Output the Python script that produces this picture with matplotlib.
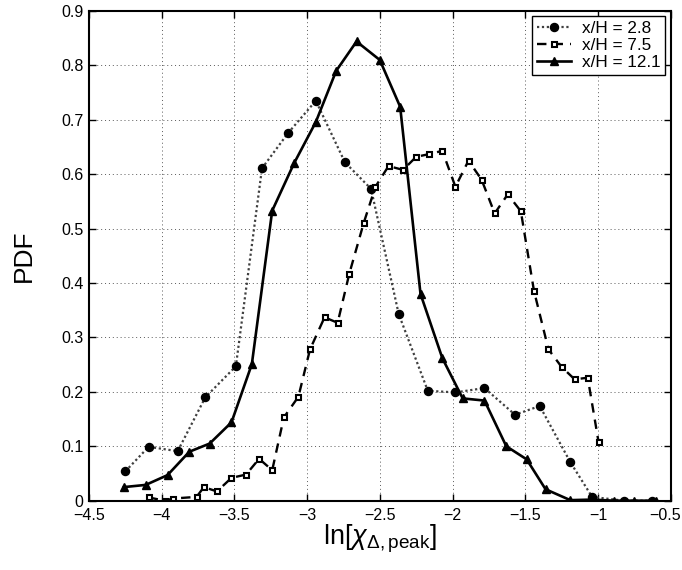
import numpy as np
import matplotlib
matplotlib.use('Agg')
import matplotlib.pyplot as plt
import matplotlib.transforms as mtrans

plt.rcParams['font.family'] = ['Liberation Sans', 'DejaVu Sans']
plt.rcParams['mathtext.fontset'] = 'custom'
plt.rcParams['mathtext.rm'] = 'Liberation Sans'
plt.rcParams['mathtext.it'] = 'Liberation Sans:italic'

# x/H = 2.8 (circles, dotted)
x1 = [-4.25, -4.09, -3.89, -3.70, -3.49, -3.31, -3.13, -2.94, -2.74, -2.56,
      -2.37, -2.17, -1.98, -1.78, -1.57, -1.40, -1.19, -1.04, -0.82, -0.63]
y1 = [0.054, 0.099, 0.091, 0.190, 0.247, 0.611, 0.676, 0.735, 0.622, 0.573,
      0.343, 0.202, 0.199, 0.207, 0.158, 0.174, 0.071, 0.007, 0.0, 0.0]

# x/H = 7.5 (squares, dashed)
x2 = [-4.09, -3.98, -3.92, -3.76, -3.71, -3.62, -3.52, -3.42, -3.33, -3.24,
      -3.16, -3.06, -2.98, -2.88, -2.79, -2.71, -2.61, -2.53, -2.44, -2.34,
      -2.25, -2.16, -2.07, -1.98, -1.89, -1.80, -1.71, -1.62, -1.53, -1.44,
      -1.34, -1.25, -1.16, -1.07, -0.995]
y2 = [0.006, 0.0, 0.004, 0.007, 0.025, 0.017, 0.042, 0.048, 0.077, 0.056,
      0.153, 0.191, 0.278, 0.337, 0.327, 0.417, 0.511, 0.577, 0.615, 0.608,
      0.632, 0.637, 0.643, 0.577, 0.625, 0.590, 0.528, 0.563, 0.532, 0.386,
      0.278, 0.246, 0.223, 0.226, 0.107]

# x/H = 12.1 (triangles, solid)
x3 = [-4.26, -4.11, -3.96, -3.81, -3.67, -3.52, -3.38, -3.24, -3.09, -2.94,
      -2.80, -2.66, -2.50, -2.36, -2.22, -2.07, -1.93, -1.78, -1.63, -1.49,
      -1.36, -1.19, -1.04, -0.89, -0.75, -0.60]
y3 = [0.025, 0.029, 0.047, 0.090, 0.105, 0.144, 0.251, 0.533, 0.620, 0.696,
      0.790, 0.844, 0.810, 0.724, 0.380, 0.262, 0.188, 0.184, 0.100, 0.076,
      0.021, 0.001, 0.002, 0.0, 0.0, 0.0]

labels = ['x/H = 2.8', 'x/H = 7.5', 'x/H = 12.1']
xticklabels = ['\u22124.5', '\u22124', '\u22123.5', '\u22123', '\u22122.5',
               '\u22122', '\u22121.5', '\u22121', '\u22120.5']
yticklabels = ['0', '0.1', '0.2', '0.3', '0.4', '0.5', '0.6', '0.7', '0.8', '0.9']

fig = plt.figure(figsize=(6.82, 5.70), dpi=100)
ax = fig.add_axes([0.1305, 0.1216, 0.8528, 0.8591])

ax.plot(x1, y1, color='0.25', linestyle=(0, (1, 1.2)), linewidth=1.6, marker='o',
        markersize=5.8, markerfacecolor='black', markeredgecolor='black',
        label=labels[0])
ax.plot(x2, y2, color='black', linestyle=(0, (4, 3)), linewidth=1.7,
        marker='s', markersize=3.6, markerfacecolor='white', markeredgewidth=1.5,
        label=labels[1])
ax.plot(x3, y3, color='black', linestyle='-', linewidth=1.9, marker='^',
        markersize=5.8, markerfacecolor='black', label=labels[2])

ax.set_xlim(-4.5, -0.5)
ax.set_ylim(0, 0.9)
ax.set_xticks(np.arange(-4.5, -0.49, 0.5))
ax.set_yticks(np.arange(0, 0.91, 0.1))
ax.set_xticklabels(xticklabels)
ax.set_yticklabels(yticklabels)
ax.tick_params(direction='in', top=True, right=True, labelsize=11.5, length=5, width=1)
ax.tick_params(axis='x', pad=5)
ax.tick_params(axis='y', pad=4)
ax.grid(True, linestyle=(0, (1, 3)), color='0.35', linewidth=0.7)
for sp in ax.spines.values():
    sp.set_linewidth(1.5)

# keep the last x tick label inside the figure
lab = ax.get_xticklabels()[-1]
lab.set_transform(lab.get_transform() + mtrans.ScaledTranslation(-6 / 100, 0, fig.dpi_scale_trans))

ax.set_xlabel(r'ln$[\chi_{\Delta,\mathrm{peak}}]$', fontsize=19.5, labelpad=0)
ax.set_ylabel('PDF', fontsize=19, labelpad=18)

leg = ax.legend(loc='upper right', fontsize=12.3, fancybox=False, framealpha=1,
                edgecolor='black', borderaxespad=0.3, handlelength=2.0,
                borderpad=0.3, labelspacing=0.1, handletextpad=0.6)
leg.get_frame().set_linewidth(1.0)

plt.savefig('out.png', dpi=100)
